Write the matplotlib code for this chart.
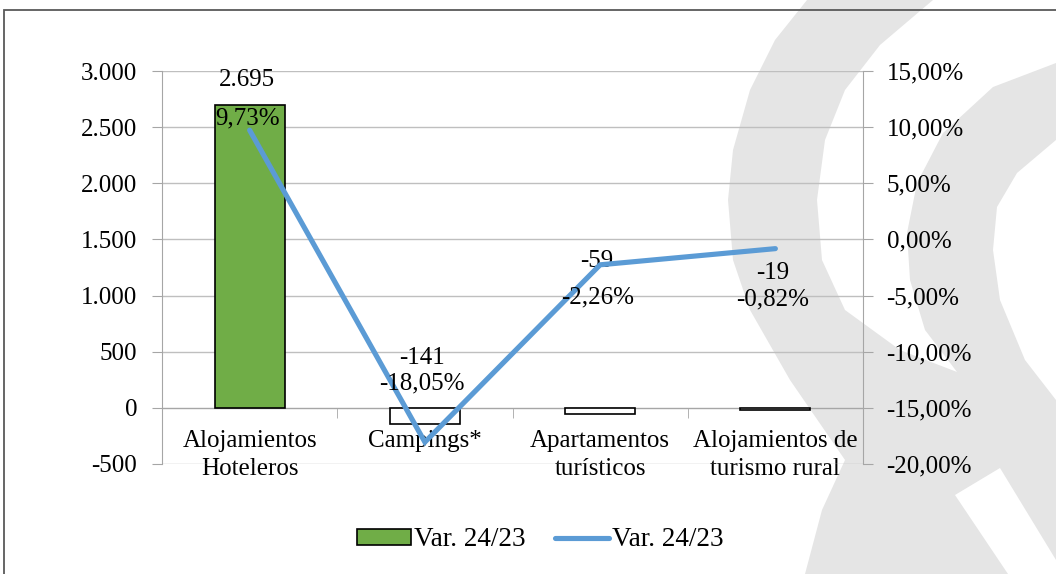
import matplotlib.pyplot as plt
from matplotlib.patches import Polygon, Rectangle
from matplotlib.ticker import FuncFormatter, FixedLocator

# datos
categorias = ["Alojamientos\nHoteleros", "Campings*", "Apartamentos\nturísticos",
              "Alojamientos de\nturismo rural"]
var_abs = [2695, -141, -59, -19]
var_pct = [9.73, -18.05, -2.26, -0.82]
etiquetas_abs = ["2.695", "-141", "-59", "-19"]
etiquetas_pct = ["9,73%", "-18,05%", "-2,26%", "-0,82%"]
ticks_izq = [-500, 0, 500, 1000, 1500, 2000, 2500, 3000]
ticks_der = [-20, -15, -10, -5, 0, 5, 10, 15]
nombre_serie = "Var. 24/23"

# desplazamiento de las etiquetas (pixeles), como las coloca Excel
off_abs = [(-3, 25), (-3, 66), (-3, 153), (-3, 137)]
off_pct = [(-2, 12), (-3, 59), (-3, -33), (-3, -51)]

W, H = 1056, 574
verde = "#70AD47"
azul = "#5B9BD5"
gris_rejilla = "#BFBFBF"
gris_eje = "#A6A6A6"
gris_marca = "#E5E5E5"
fs = 18

plt.rcParams["font.family"] = ["Liberation Serif", "DejaVu Serif"]

fig = plt.figure(figsize=(W / 100, H / 100), dpi=100)


def px(pts):
    return [(x / W, 1 - y / H) for x, y in pts]


# marca de agua de fondo (aproximada)
fondo = [(807, 0), (775, 40), (750, 90), (733, 150), (728, 200), (733, 260),
         (750, 310), (790, 380), (845, 460), (822, 510), (805, 574),
         (1056, 574), (1056, 0)]
hueco1 = [(933, 0), (880, 45), (845, 90), (825, 140), (817, 200), (822, 260),
          (845, 310), (900, 350), (957, 372), (925, 330), (910, 280),
          (907, 233), (917, 183), (943, 133), (993, 87), (1056, 63), (1056, 0)]
hueco2 = [(1056, 140), (1017, 173), (997, 207), (993, 250), (1000, 300),
          (1025, 360), (1056, 400)]
franja = [(955, 495), (1000, 468), (1056, 560), (1056, 574), (1008, 574)]
fig.patches.append(Polygon(px(fondo), closed=True, transform=fig.transFigure,
                           facecolor=gris_marca, edgecolor="none", zorder=-3))
for p in (hueco1, hueco2, franja):
    fig.patches.append(Polygon(px(p), closed=True, transform=fig.transFigure,
                               facecolor="white", edgecolor="none", zorder=-2))
fig.patches.append(Rectangle((4 / W, -0.1), 1.2, 1.1 - 10 / H,
                             transform=fig.transFigure, facecolor="none",
                             edgecolor="#595959", lw=1.3, zorder=-1))

ax = fig.add_axes([162 / W, 1 - 464 / H, 701 / W, 393 / H])
ax.set_facecolor("none")
x = list(range(len(categorias)))

colores = [verde if v >= 0 else "white" for v in var_abs]
barras = ax.bar(x, var_abs, width=0.4, color=colores, edgecolor="black",
                linewidth=1.2, zorder=3)

ax.set_xlim(-0.5, len(categorias) - 0.5)
ax.set_ylim(ticks_izq[0], ticks_izq[-1])
ax.yaxis.set_major_locator(FixedLocator(ticks_izq))
ax.yaxis.set_major_formatter(FuncFormatter(lambda v, p: f"{v:,.0f}".replace(",", ".")))
ax.grid(axis="y", color=gris_rejilla, lw=1.0, zorder=0)
ax.set_axisbelow(True)

for s in ["top", "right"]:
    ax.spines[s].set_visible(False)
ax.spines["left"].set_color(gris_eje)
ax.spines["bottom"].set_position(("data", 0))
ax.spines["bottom"].set_color(gris_eje)
ax.spines["bottom"].set_zorder(2)

ax.set_xticks(x)
ax.set_xticklabels(categorias, fontsize=fs, linespacing=1.35)
ax.set_xticks([i + 0.5 for i in range(-1, len(categorias))], minor=True)
ax.tick_params(axis="x", which="major", length=0, pad=16)
ax.tick_params(axis="x", which="minor", length=7, color=gris_eje, direction="out")
ax.tick_params(axis="y", length=7, color=gris_eje, labelsize=fs, pad=11)

ax2 = ax.twinx()
linea, = ax2.plot(x, var_pct, color=azul, lw=3.7, solid_capstyle="round",
                  solid_joinstyle="miter", zorder=4)
ax2.set_ylim(ticks_der[0], ticks_der[-1])
ax2.yaxis.set_major_locator(FixedLocator(ticks_der))
ax2.yaxis.set_major_formatter(FuncFormatter(lambda v, p: f"{v:.2f}%".replace(".", ",")))
ax2.tick_params(axis="y", length=7, color=gris_eje, labelsize=fs, pad=10)
for s in ["top", "left", "bottom"]:
    ax2.spines[s].set_visible(False)
ax2.spines["right"].set_color(gris_eje)

for i in x:
    ax.annotate(etiquetas_abs[i], (x[i], var_abs[i]), xytext=off_abs[i],
                textcoords="offset pixels", ha="center", va="center",
                fontsize=fs, zorder=6)
    ax2.annotate(etiquetas_pct[i], (x[i], var_pct[i]), xytext=off_pct[i],
                 textcoords="offset pixels", ha="center", va="center",
                 fontsize=fs, zorder=6)

fig.legend([barras[0], linea], [nombre_serie, nombre_serie], loc="center",
           bbox_to_anchor=(540 / W, 1 - 540 / H), ncol=2, frameon=False,
           fontsize=19.5, handlelength=2.0, handleheight=0.55,
           handletextpad=0.1, columnspacing=1.1)

fig.savefig("out.png", dpi=100)
